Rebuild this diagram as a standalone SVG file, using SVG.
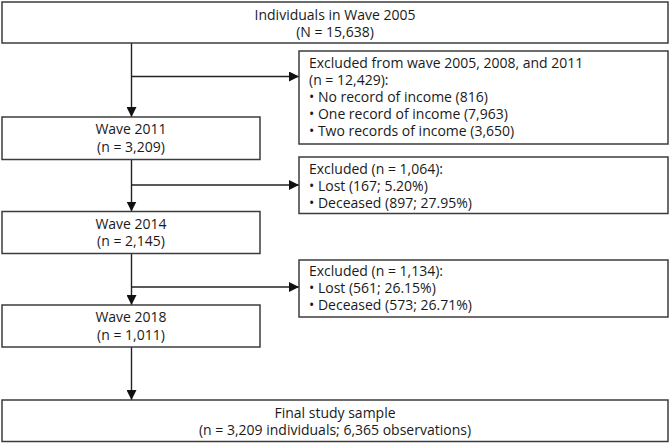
<svg xmlns="http://www.w3.org/2000/svg" width="670" height="444" viewBox="0 0 670 444">
<defs>
<marker id="arr" viewBox="0 0 10 10" refX="10" refY="5" markerWidth="10" markerHeight="10" markerUnits="userSpaceOnUse" orient="auto">
<path d="M0,0 L10,5 L0,10 Z" fill="#111"/>
</marker>
<style>
.box{fill:#fff;stroke:#3c3c3c;stroke-width:1.5}
.t{font-family:"Open Sans","Noto Sans","Liberation Sans",sans-serif;font-size:14px;fill:#1a1a1a}
.c{text-anchor:middle}
.ln{fill:none;stroke:#222;stroke-width:1.4}
</style>
</defs>
<rect width="670" height="444" fill="#fff"/>
<g id="connectors">
<line class="ln" x1="131.5" y1="43" x2="131.5" y2="117" marker-end="url(#arr)"/>
<line class="ln" x1="131.5" y1="76.5" x2="299" y2="76.5" marker-end="url(#arr)"/>
<line class="ln" x1="131.5" y1="159.5" x2="131.5" y2="211.5" marker-end="url(#arr)"/>
<line class="ln" x1="131.5" y1="185" x2="299" y2="185" marker-end="url(#arr)"/>
<line class="ln" x1="131.5" y1="253.5" x2="131.5" y2="305" marker-end="url(#arr)"/>
<line class="ln" x1="131.5" y1="287" x2="299" y2="287" marker-end="url(#arr)"/>
<line class="ln" x1="131.5" y1="347" x2="131.5" y2="400" marker-end="url(#arr)"/>
</g>
<g id="wave2005">
<rect class="box" x="2" y="2" width="666" height="41"/>
<text class="t c" x="335" y="20">Individuals in Wave 2005</text>
<text class="t c" x="335" y="37">(N = 15,638)</text>
</g>
<g id="excluded1">
<rect class="box" x="299" y="51" width="369" height="93"/>
<text class="t" x="309" y="68">Excluded from wave 2005, 2008, and 2011</text>
<text class="t" x="309" y="85">(n = 12,429):</text>
<text class="t" x="309" y="102">• No record of income (816)</text>
<text class="t" x="309" y="119">• One record of income (7,963)</text>
<text class="t" x="309" y="136">• Two records of income (3,650)</text>
</g>
<g id="wave2011">
<rect class="box" x="2" y="117" width="258" height="42.5"/>
<text class="t c" x="131" y="134">Wave 2011</text>
<text class="t c" x="131" y="151.5">(n = 3,209)</text>
</g>
<g id="excluded2">
<rect class="box" x="299" y="157" width="369" height="56.5"/>
<text class="t" x="309" y="173.5">Excluded (n = 1,064):</text>
<text class="t" x="309" y="190.5">• Lost (167; 5.20%)</text>
<text class="t" x="309" y="207.5">• Deceased (897; 27.95%)</text>
</g>
<g id="wave2014">
<rect class="box" x="2" y="211.5" width="258" height="42"/>
<text class="t c" x="131" y="228.5">Wave 2014</text>
<text class="t c" x="131" y="246">(n = 2,145)</text>
</g>
<g id="excluded3">
<rect class="box" x="299" y="260" width="369" height="57"/>
<text class="t" x="309" y="275.5">Excluded (n = 1,134):</text>
<text class="t" x="309" y="292.5">• Lost (561; 26.15%)</text>
<text class="t" x="309" y="310">• Deceased (573; 26.71%)</text>
</g>
<g id="wave2018">
<rect class="box" x="2" y="305" width="258" height="42"/>
<text class="t c" x="131" y="322">Wave 2018</text>
<text class="t c" x="131" y="340">(n = 1,011)</text>
</g>
<g id="final">
<rect class="box" x="2" y="400" width="666" height="41.5"/>
<text class="t c" x="335" y="417.5">Final study sample</text>
<text class="t c" x="335" y="434.5">(n = 3,209 individuals; 6,365 observations)</text>
</g>
</svg>
